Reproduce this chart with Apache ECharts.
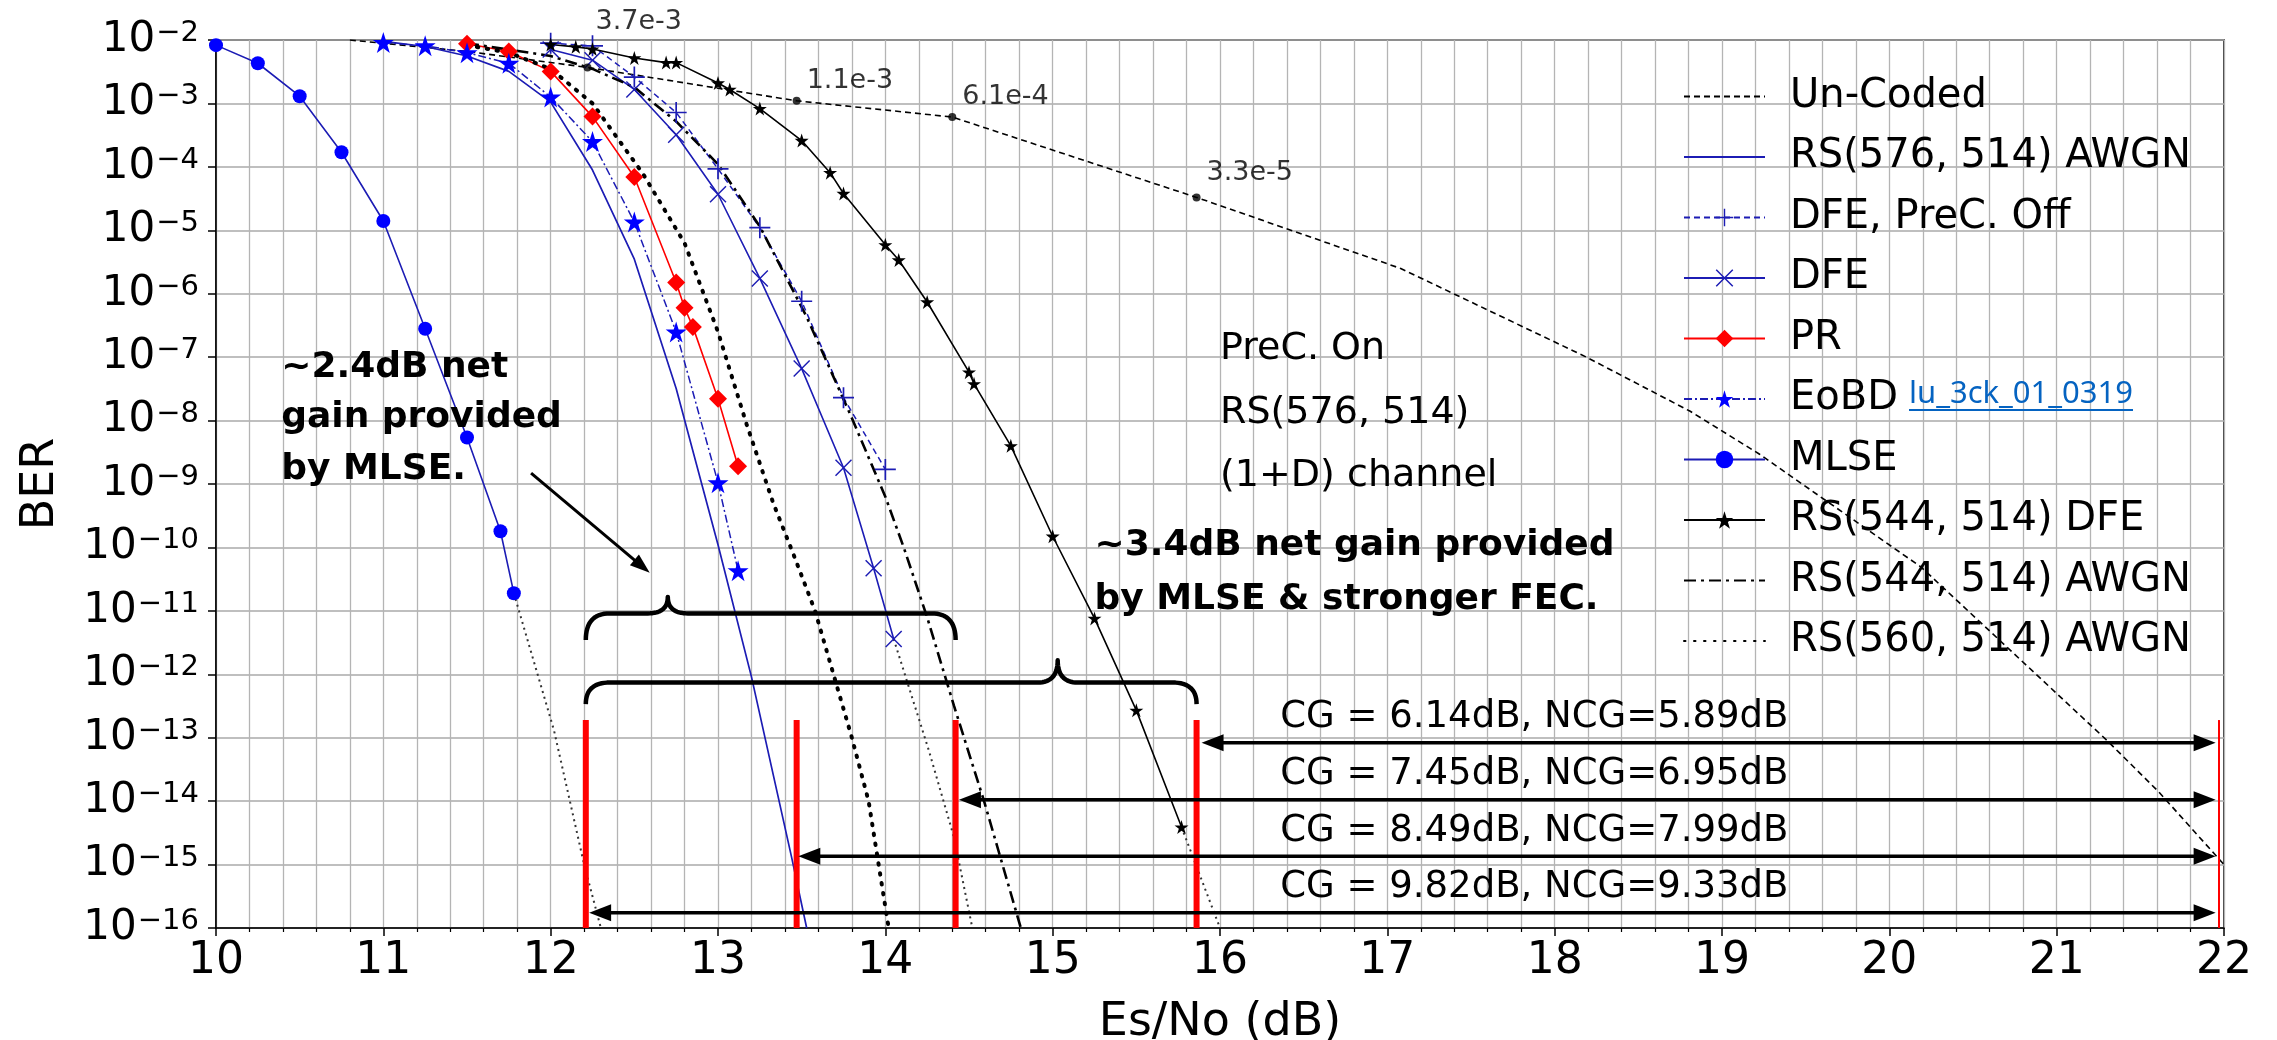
<!DOCTYPE html>
<html>
<head>
<meta charset="utf-8">
<script src="https://cdn.jsdelivr.net/npm/echarts@6/dist/echarts.min.js"></script>
<style>
  html, body { margin: 0; padding: 0; background: #fff; }
  #chart { width: 2277px; height: 1040px; }
</style>
</head>
<body>
<div id="chart"></div>
<script>
// ---- Curves: Es/No (dB) and BER ----
const uncodedX   = [10.8, 11.5, 12.22, 13.47, 14.40, 15.86, 17.08, 18.19, 18.81, 19.22, 20.19, 21.30, 21.61, 22.0];
const uncodedBer = [1.0e-2, 6.6e-3, 3.7e-3, 1.1e-3, 6.1e-4, 3.3e-5, 2.5e-6, 1.0e-7, 1.4e-8, 3.0e-9, 4.9e-11, 9.1e-14, 1.4e-14, 1.0e-15];

// labelled reference points on the un-coded curve
const uncodedMarkX    = [12.22, 13.47, 14.40, 15.86];
const uncodedMarkBer  = [3.7e-3, 1.1e-3, 6.1e-4, 3.3e-5];
const uncodedMarkText = ['3.7e-3', '1.1e-3', '6.1e-4', '3.3e-5'];

const rs576X   = [11.0, 11.25, 11.5, 11.75, 12.0, 12.25, 12.5, 12.75, 13.0, 13.2, 13.44, 13.53];
const rs576Ber = [9.5e-3, 7.9e-3, 5.6e-3, 3.2e-3, 1.05e-3, 8.9e-5, 3.5e-6, 3.2e-8, 1.1e-10, 9.1e-13, 1.3e-15, 1.0e-16];

const dfeOffX   = [12.0, 12.25, 12.5, 12.75, 13.0, 13.25, 13.5, 13.75, 14.0];
const dfeOffBer = [8.9e-3, 8.1e-3, 2.6e-3, 7.2e-4, 9.3e-5, 1.1e-5, 7.6e-7, 2.3e-8, 1.7e-9];

const dfeX   = [12.0, 12.25, 12.5, 12.75, 13.0, 13.25, 13.5, 13.75, 13.93, 14.05];
const dfeBer = [7.1e-3, 4.8e-3, 1.66e-3, 3.2e-4, 3.7e-5, 1.74e-6, 6.6e-8, 1.8e-9, 4.7e-11, 3.6e-12];
const dfeExtX   = [14.05, 14.26, 14.41, 14.52];
const dfeExtBer = [3.6e-12, 6.3e-14, 2.7e-15, 1.0e-16];

const prX   = [11.5, 11.75, 12.0, 12.25, 12.5, 12.75, 12.8, 12.85, 13.0, 13.12];
const prBer = [8.7e-3, 6.6e-3, 3.2e-3, 6.2e-4, 6.9e-5, 1.5e-6, 6.0e-7, 3.0e-7, 2.2e-8, 1.9e-9];

const eobdX   = [11.0, 11.25, 11.5, 11.75, 12.0, 12.25, 12.5, 12.75, 13.0, 13.12];
const eobdBer = [9.1e-3, 8.1e-3, 6.3e-3, 4.3e-3, 1.26e-3, 2.5e-4, 1.35e-5, 2.5e-7, 1.05e-9, 4.3e-11];

const mlseX   = [10.0, 10.25, 10.5, 10.75, 11.0, 11.25, 11.5, 11.7, 11.78];
const mlseBer = [8.3e-3, 4.3e-3, 1.3e-3, 1.7e-4, 1.4e-5, 2.8e-7, 5.4e-9, 1.8e-10, 1.9e-11];
const mlseExtX   = [11.78, 12.02, 12.2, 12.3];
const mlseExtBer = [1.9e-11, 1.3e-13, 1.0e-15, 1.0e-16];

const rs544DfeX   = [12.0, 12.15, 12.25, 12.5, 12.69, 12.75, 13.0, 13.07, 13.25, 13.5, 13.67, 13.75, 14.0, 14.08, 14.25, 14.5, 14.53, 14.75, 15.0, 15.25, 15.5, 15.77];
const rs544DfeBer = [8.5e-3, 7.8e-3, 7.2e-3, 5.2e-3, 4.4e-3, 4.4e-3, 2.1e-3, 1.66e-3, 8.3e-4, 2.6e-4, 8.1e-5, 3.8e-5, 5.9e-6, 3.4e-6, 7.4e-7, 5.8e-8, 3.8e-8, 4.0e-9, 1.5e-10, 7.6e-12, 2.7e-13, 3.9e-15];
const rs544DfeExtX   = [15.77, 16.0];
const rs544DfeExtBer = [3.9e-15, 1.0e-16];

const rs544AwgnX   = [11.5, 12.0, 12.25, 12.5, 12.75, 13.0, 13.25, 13.53, 13.79, 14.0, 14.11, 14.25, 14.41, 14.59, 14.81];
const rs544AwgnBer = [8.9e-3, 5.6e-3, 3.5e-3, 1.8e-3, 5.2e-4, 1.1e-4, 1.15e-5, 4.3e-7, 1.26e-8, 6.3e-10, 1.0e-10, 7.9e-12, 3.2e-13, 1.0e-14, 1.0e-16];

const rs560X   = [11.5, 11.75, 12.0, 12.25, 12.55, 12.8, 13.0, 13.17, 13.33, 13.45, 13.58, 13.69, 13.8, 13.9, 13.96, 14.02];
const rs560Ber = [8.3e-3, 6.3e-3, 3.5e-3, 1.0e-3, 7.9e-5, 6.3e-6, 2.5e-7, 8.9e-9, 5.0e-10, 7.9e-11, 1.0e-11, 1.0e-12, 1.0e-13, 1.0e-14, 1.0e-15, 1.0e-16];

// ---- Coding-gain markers ----
const cgLineX     = [12.21, 13.47, 14.42, 15.86];
const cgRefX      = 21.97;
const cgLineTop   = 1.9e-13;
const cgArrowFrom = [15.89, 14.44, 13.48, 12.23];
const cgArrowTo   = 21.95;
const cgArrowBer  = [8.3e-14, 1.05e-14, 1.35e-15, 1.74e-16];
const cgText = ['CG = 6.14dB, NCG=5.89dB', 'CG = 7.45dB, NCG=6.95dB', 'CG = 8.49dB, NCG=7.99dB', 'CG = 9.82dB, NCG=9.33dB'];

// axis tick labels
const xTickLabels = ['10','11','12','13','14','15','16','17','18','19','20','21','22'];
const yExponents  = [-16,-15,-14,-13,-12,-11,-10,-9,-8,-7,-6,-5,-4,-3,-2];

const FONT = 'DejaVu Sans';
const BLUE_LINE = '#1c1cb4';
const BLUE = '#0000ff';
const RED = '#ff0000';

const starPath  = 'path://M50,0L61.8,36.2L100,36.2L69.1,58.8L80.9,95.1L50,72.7L19.1,95.1L30.9,58.8L0,36.2L38.2,36.2Z';
const plusPath  = 'path://M46,0H54V100H46Z M0,46H100V54H0Z';
const crossPath = 'path://M6,0L50,44L94,0L100,6L56,50L100,94L94,100L50,56L6,100L0,94L44,50L0,6Z';

const pts = (xs, ys) => xs.map((x, i) => [x, Math.log10(ys[i])]);

const chart = echarts.init(document.getElementById('chart'), null, { renderer: 'canvas' });

function curve(name, xs, ys, extra) {
  return Object.assign({
    name: name, type: 'line', data: pts(xs, ys), animation: false,
    symbol: 'none', z: 3
  }, extra);
}

const series = [
  curve('Un-Coded', uncodedX, uncodedBer, {
    lineStyle: { color: '#000', width: 1.6, type: [6, 4] }, itemStyle: { color: '#000' }
  }),
  {
    name: 'uncoded-points', type: 'scatter', animation: false, z: 6,
    data: pts(uncodedMarkX, uncodedMarkBer).map((p, i) => ({
      value: p,
      label: { offset: i === 0 ? [1, -45] : (i === 3 ? [3, -24] : [3, -20]) }
    })),
    symbol: 'circle', symbolSize: 8, itemStyle: { color: '#000' },
    label: {
      show: true, position: 'right', distance: 3,
      formatter: p => uncodedMarkText[p.dataIndex],
      fontFamily: FONT, fontSize: 27, color: '#000'
    }
  },
  curve('RS(576, 514) AWGN', rs576X, rs576Ber, {
    lineStyle: { color: BLUE_LINE, width: 1.7 }, itemStyle: { color: BLUE_LINE }
  }),
  curve('DFE, PreC. Off', dfeOffX, dfeOffBer, {
    symbol: plusPath, symbolSize: 21,
    lineStyle: { color: BLUE_LINE, width: 1.5, type: [6, 4] }, itemStyle: { color: BLUE_LINE }
  }),
  curve('DFE', dfeX, dfeBer, {
    symbol: crossPath, symbolSize: 17,
    lineStyle: { color: BLUE_LINE, width: 1.6 }, itemStyle: { color: BLUE_LINE }
  }),
  curve('dfe-extrapolation', dfeExtX, dfeExtBer, {
    lineStyle: { color: '#333', width: 2, type: [2, 4] }
  }),
  curve('PR', prX, prBer, {
    symbol: 'diamond', symbolSize: 18,
    lineStyle: { color: RED, width: 1.6 }, itemStyle: { color: RED }
  }),
  curve('EoBD', eobdX, eobdBer, {
    symbol: starPath, symbolSize: 21,
    lineStyle: { color: BLUE_LINE, width: 1.5, type: [8, 3, 2, 3] }, itemStyle: { color: BLUE }
  }),
  curve('MLSE', mlseX, mlseBer, {
    symbol: 'circle', symbolSize: 14,
    lineStyle: { color: BLUE_LINE, width: 1.6 }, itemStyle: { color: BLUE }
  }),
  curve('mlse-extrapolation', mlseExtX, mlseExtBer, {
    lineStyle: { color: '#333', width: 2, type: [2, 4] }
  }),
  curve('RS(544, 514) DFE', rs544DfeX, rs544DfeBer, {
    symbol: starPath, symbolSize: 14,
    lineStyle: { color: '#000', width: 1.6 }, itemStyle: { color: '#000' }
  }),
  curve('rs544dfe-extrapolation', rs544DfeExtX, rs544DfeExtBer, {
    lineStyle: { color: '#333', width: 2, type: [2, 4] }
  }),
  curve('RS(544, 514) AWGN', rs544AwgnX, rs544AwgnBer, {
    lineStyle: { color: '#000', width: 2.6, type: [12, 5, 3, 5] }, itemStyle: { color: '#000' }
  }),
  curve('RS(560, 514) AWGN', rs560X, rs560Ber, {
    lineStyle: { color: '#000', width: 4, type: [1.5, 8.5], cap: 'round' }, itemStyle: { color: '#000' }
  })
];

// red markers at the required Es/No of each scheme
cgLineX.forEach((x, i) => {
  series.push(curve('cg-line-' + i, [x, x], [cgLineTop, 1.0e-16], {
    lineStyle: { color: RED, width: 6 }, z: 8
  }));
});
series.push(curve('cg-ref', [cgRefX, cgRefX], [cgLineTop, 1.0e-16], {
  lineStyle: { color: RED, width: 2 }, z: 8
}));

const legendNames = ['Un-Coded', 'RS(576, 514) AWGN', 'DFE, PreC. Off', 'DFE', 'PR', 'EoBD', 'MLSE',
  'RS(544, 514) DFE', 'RS(544, 514) AWGN', 'RS(560, 514) AWGN'];
const noMarker = ['Un-Coded', 'RS(576, 514) AWGN', 'RS(544, 514) AWGN', 'RS(560, 514) AWGN'];

chart.setOption({
  animation: false,
  backgroundColor: '#fff',
  grid: {
    left: 216, right: 53, top: 40, bottom: 112,
    show: true, borderColor: '#000', borderWidth: 1.5, backgroundColor: 'transparent',
    containLabel: false, outerBoundsMode: 'none'
  },
  legend: {
    orient: 'vertical', left: 1678, top: 69.5,
    itemWidth: 81, itemHeight: 22, itemGap: 16.5,
    textStyle: { fontFamily: FONT, fontSize: 40, color: '#000', lineHeight: 44, padding: [0, 0, 0, 20] },
    data: legendNames.map(n => {
      const o = { name: n };
      if (noMarker.indexOf(n) >= 0) o.itemStyle = { opacity: 0 };
      if (n === 'RS(560, 514) AWGN') o.lineStyle = { cap: 'round' };
      return o;
    }),
    selectedMode: false
  },
  xAxis: {
    type: 'value', min: 10, max: 22, interval: 1,
    name: 'Es/No (dB)', nameLocation: 'middle', nameGap: 72,
    nameTextStyle: { fontFamily: FONT, fontSize: 46, color: '#000' },
    axisLine: { show: true, lineStyle: { color: '#000', width: 1.5 } },
    axisTick: { show: true, length: 8, lineStyle: { color: '#000', width: 1.5 } },
    minorTick: { show: true, splitNumber: 5, length: 4, lineStyle: { color: '#000', width: 1.2 } },
    axisLabel: {
      margin: 12, fontFamily: FONT, fontSize: 44, color: '#000',
      formatter: v => xTickLabels[Math.round(v - 10)]
    },
    splitLine: { show: true, lineStyle: { color: '#b4b4b4', width: 1.3 } },
    minorSplitLine: { show: true, lineStyle: { color: '#b4b4b4', width: 1.3 } }
  },
  yAxis: {
    type: 'value', min: -16, max: -2, interval: 1,
    name: 'BER', nameLocation: 'middle', nameGap: 152, nameRotate: 90,
    nameTextStyle: { fontFamily: FONT, fontSize: 46, color: '#000' },
    axisLine: { show: true, lineStyle: { color: '#000', width: 1.5 } },
    axisTick: { show: true, length: 8, lineStyle: { color: '#000', width: 1.5 } },
    axisLabel: {
      margin: 17, color: '#000',
      formatter: v => {
        const e = yExponents.indexOf(Math.round(v)) >= 0 ? Math.round(v) : v;
        return '{b|10}{s|\u2212' + Math.abs(e) + '}';
      },
      rich: {
        b: { fontFamily: FONT, fontSize: 42, color: '#000' },
        s: { fontFamily: FONT, fontSize: 29, color: '#000', verticalAlign: 'top', padding: [0, 0, 0, 1] }
      }
    },
    splitLine: { show: true, lineStyle: { color: '#aaaaaa', width: 1.6 } }
  },
  series: series
});

// ---- Annotations placed in data coordinates ----
const P = (x, lg) => chart.convertToPixel({ gridIndex: 0 }, [x, lg]);
const lgB = b => Math.log10(b);

const braceSmall = { from: 12.21, to: 14.42, tip: 12.70, bar: -11.04, top: -10.78, end: -11.46 };
const braceLarge = { from: 12.21, to: 15.86, tip: 15.03, bar: -12.13, top: -11.78, end: -12.47 };
const pointerFrom = [11.883, -8.83];
const pointerTo   = [12.592, -10.40];

const noteRegular = { x: 16.0, rows: [-6.874, -7.883, -8.877], text: ['PreC. On', 'RS(576, 514)', '(1+D) channel'] };
const noteMlse    = { x: 10.39, rows: [-7.16, -7.96, -8.77], text: ['~2.4dB net', 'gain provided', 'by MLSE.'] };
const noteFec     = { x: 15.25, rows: [-9.97, -10.83], text: ['~3.4dB net gain provided', 'by MLSE & stronger FEC.'] };
const cgTextX = 16.36;

const g = [];

function arrow(x1, y1, x2, y2, both, lw, hl, hw) {
  const dx = x2 - x1, dy = y2 - y1, L = Math.hypot(dx, dy), ux = dx / L, uy = dy / L;
  const nx = -uy, ny = ux;
  const sx = both ? x1 + ux * hl * 0.7 : x1, sy = both ? y1 + uy * hl * 0.7 : y1;
  const ex = x2 - ux * hl * 0.7, ey = y2 - uy * hl * 0.7;
  g.push({ type: 'line', z: 60, shape: { x1: sx, y1: sy, x2: ex, y2: ey }, style: { stroke: '#000', lineWidth: lw } });
  const head = (tx, ty, vx, vy) => {
    const bx = tx - vx * hl, by = ty - vy * hl;
    g.push({ type: 'polygon', z: 61, shape: { points: [[tx, ty], [bx + nx * hw / 2, by + ny * hw / 2], [bx - nx * hw / 2, by - ny * hw / 2]] }, style: { fill: '#000' } });
  };
  head(x2, y2, ux, uy);
  if (both) head(x1, y1, -ux, -uy);
}

function quadPts(out, p0, p1, p2, n) {
  for (let k = 1; k <= n; k++) {
    const t = k / n, a = (1 - t) * (1 - t), b = 2 * (1 - t) * t, c = t * t;
    out.push([a * p0[0] + b * p1[0] + c * p2[0], a * p0[1] + b * p1[1] + c * p2[1]]);
  }
}

function brace(b) {
  const xl = P(b.from, b.bar)[0], xr = P(b.to, b.bar)[0], xt = P(b.tip, b.bar)[0];
  const yB = P(b.from, b.bar)[1], yT = P(b.from, b.top)[1], yE = P(b.from, b.end)[1];
  const r = 24, t = 20;
  const p = [[xl, yE]];
  quadPts(p, [xl, yE], [xl, yB], [xl + r, yB], 16);
  p.push([xt - t, yB]);
  quadPts(p, [xt - t, yB], [xt, yB], [xt, yT], 16);
  quadPts(p, [xt, yT], [xt, yB], [xt + t, yB], 16);
  p.push([xr - r, yB]);
  quadPts(p, [xr - r, yB], [xr, yB], [xr, yE], 16);
  g.push({ type: 'polyline', z: 60, shape: { points: p }, style: { stroke: '#000', lineWidth: 4.5, fill: null, lineJoin: 'round' } });
}

function text(str, x, y, size, weight, color) {
  g.push({
    type: 'text', z: 62, x: x, y: y,
    style: { text: str, fontFamily: FONT, fontSize: size, fontWeight: weight || 'normal', fill: color || '#000', align: 'left', verticalAlign: 'middle' }
  });
}

brace(braceSmall);
brace(braceLarge);

const pf = P(pointerFrom[0], pointerFrom[1]), pt = P(pointerTo[0], pointerTo[1]);
arrow(pf[0], pf[1], pt[0], pt[1], false, 3, 20, 14);

cgArrowBer.forEach((b, i) => {
  const a = P(cgArrowFrom[i], lgB(b)), c = P(cgArrowTo, lgB(b));
  arrow(a[0], a[1], c[0], c[1], true, 3.5, 22, 17);
  const tp = P(cgTextX, lgB(b));
  text(cgText[i], tp[0], tp[1] - 25, 37);
});

noteRegular.rows.forEach((r, i) => { const p = P(noteRegular.x, r); text(noteRegular.text[i], p[0], p[1], 38); });
noteMlse.rows.forEach((r, i) => { const p = P(noteMlse.x, r); text(noteMlse.text[i], p[0], p[1], 36, 'bold'); });
noteFec.rows.forEach((r, i) => { const p = P(noteFec.x, r); text(noteFec.text[i], p[0], p[1], 36, 'bold'); });

// data-file tag beside the EoBD legend entry
const linkText = 'lu_3ck_01_0319';
const ctx = document.createElement('canvas').getContext('2d');
ctx.font = '31px "Noto Sans"';
const linkW = ctx.measureText(linkText).width;
g.push({
  type: 'text', z: 62, x: 1909, y: 394,
  style: { text: linkText, fontFamily: 'Noto Sans', fontSize: 31, fill: '#0563c1', align: 'left', verticalAlign: 'middle' }
});
g.push({ type: 'line', z: 62, shape: { x1: 1909, y1: 410, x2: 1909 + linkW, y2: 410 }, style: { stroke: '#0563c1', lineWidth: 2 } });

chart.setOption({ graphic: g });
</script>
</body>
</html>
